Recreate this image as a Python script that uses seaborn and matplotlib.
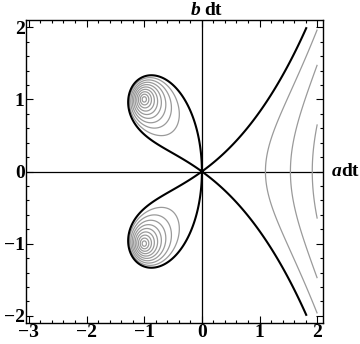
import numpy as np
import matplotlib
matplotlib.use("Agg")
import matplotlib.pyplot as plt
import matplotlib.transforms as mtrans
import seaborn as sns

# Order star of the degree-2 Taylor/RK2 stability polynomial: |R(z) e^{-z}|
poly_coeffs = [1.0, 1.0, 0.5]          # R(z) = 1 + z + z^2/2
gray_levels = [0.1, 0.2, 0.3, 0.4, 0.5, 0.6, 0.7, 0.8, 0.9]
black_levels = [1.0]
x_range = [-3.0, 2.0]
y_range = [-2.0, 2.0]
x_ticks = [-3, -2, -1, 0, 1, 2]
y_ticks = [-2, -1, 0, 1, 2]
x_tick_labels = ["\u22123", "\u22122", "\u22121", "0", "1", "2"]
y_tick_labels = ["\u22122", "\u22121", "0", "1", "2"]

sns.set_style("ticks")
plt.rcParams['font.family'] = ['Liberation Serif', 'DejaVu Serif']
plt.rcParams['text.color'] = 'black'
plt.rcParams['xtick.labelcolor'] = 'black'
plt.rcParams['ytick.labelcolor'] = 'black'

xs = np.linspace(x_range[0], x_range[1], 800)
ys = np.linspace(y_range[0], y_range[1], 800)
X, Y = np.meshgrid(xs, ys)
Z = X + 1j * Y
R = sum(c * Z**k for k, c in enumerate(poly_coeffs))
F = np.abs(R) * np.exp(-X)

fig = plt.figure(figsize=(3.6, 3.44), dpi=100)
ax = fig.add_axes([26/360, 21/344, 297/360, 303/344])

ax.contour(X, Y, F, levels=gray_levels, colors="#9a9a9a", linewidths=0.9)
ax.contour(X, Y, F, levels=black_levels, colors="black", linewidths=1.5)

ax.axhline(0, color="black", lw=0.9, zorder=0)
ax.axvline(0, color="black", lw=0.9, zorder=0)

ax.set_xlim(-3.05, 2.1)
ax.set_ylim(-2.1, 2.1)

for s in ax.spines.values():
    s.set_visible(True)
    s.set_linewidth(1.0)
    s.set_color("black")

ax.set_xticks(x_ticks)
ax.set_xticklabels(x_tick_labels, fontsize=14, fontweight="bold", color="black")
ax.set_yticks(y_ticks)
ax.set_yticklabels(y_tick_labels, fontsize=14, fontweight="bold", color="black")
ax.set_xticks(np.arange(-3, 2.01, 0.2), minor=True)
ax.set_yticks(np.arange(-2, 2.01, 0.2), minor=True)
ax.tick_params(which="both", direction="in", top=True, right=True, color="black", width=0.8)
ax.tick_params(which="major", length=5, pad=1)
ax.tick_params(which="minor", length=2.5)

# top label "b dt"
tr_top = mtrans.blended_transform_factory(ax.transData, ax.transAxes)
ax.annotate("b", xy=(0, 1), xycoords=tr_top, xytext=(-1, 1), textcoords="offset points",
            ha="right", va="bottom", fontsize=14, fontweight="bold", fontstyle="italic",
            color="black", annotation_clip=False)
ax.annotate("dt", xy=(0, 1), xycoords=tr_top, xytext=(2, 1), textcoords="offset points",
            ha="left", va="bottom", fontsize=14, fontweight="bold", color="black",
            annotation_clip=False)
# right label "a dt"
tr_right = mtrans.blended_transform_factory(ax.transAxes, ax.transData)
ax.annotate("a", xy=(1, 0), xycoords=tr_right, xytext=(6, 0), textcoords="offset points",
            ha="left", va="center", fontsize=14, fontweight="bold", fontstyle="italic",
            color="black", annotation_clip=False)
ax.annotate("dt", xy=(1, 0), xycoords=tr_right, xytext=(13.5, 0), textcoords="offset points",
            ha="left", va="center", fontsize=14, fontweight="bold", color="black",
            annotation_clip=False)

fig.savefig("out.png", dpi=100)
